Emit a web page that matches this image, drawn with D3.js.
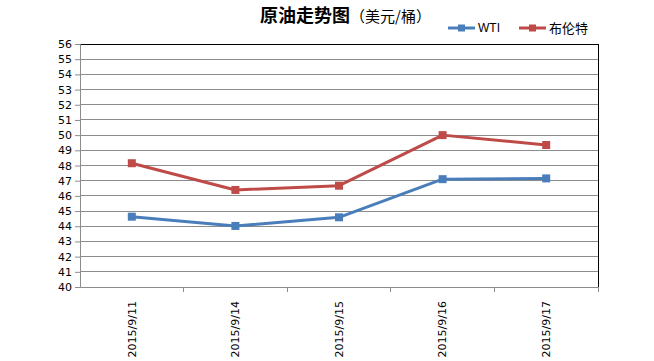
<!DOCTYPE html>
<html><head><meta charset="utf-8">
<script src="https://cdn.jsdelivr.net/npm/d3@7"></script>
<style>body{margin:0;background:#fff}svg{display:block}</style>
</head><body>
<script>
const categories = ["2015/9/11","2015/9/14","2015/9/15","2015/9/16","2015/9/17"];
const wti = [44.63, 44.02, 44.59, 47.10, 47.15];
const brent = [48.15, 46.39, 46.67, 50.00, 49.35];
const seriesNames = ["WTI","布伦特"];
const colors = ["#4a7ebb","#be4b48"];
const yTicks = d3.range(40, 57, 1);

const W = 654, H = 361;
const m = {l:80, r:56, t:44, b:74};
const svg = d3.select("body").append("svg").attr("width", W).attr("height", H);
const x = d3.scaleBand().domain(categories).range([m.l, W - m.r]);
const y = d3.scaleLinear().domain([40, 56]).range([H - m.b, m.t]);

// gridlines
svg.append("g").selectAll("line").data(yTicks.filter(d => d > 40 && d < 56)).join("line")
  .attr("x1", m.l).attr("x2", W - m.r).attr("y1", d => y(d)).attr("y2", d => y(d))
  .attr("stroke", "#8c8c8c").attr("stroke-width", 1).attr("shape-rendering","crispEdges");
// top and right border
svg.append("line").attr("x1", m.l).attr("x2", W - m.r).attr("y1", y(56)).attr("y2", y(56))
  .attr("stroke", "#000").attr("shape-rendering","crispEdges");
svg.append("line").attr("x1", W - m.r).attr("x2", W - m.r).attr("y1", y(56)).attr("y2", y(40))
  .attr("stroke", "#000").attr("shape-rendering","crispEdges");

// y axis
const ya = svg.append("g").attr("transform", `translate(${m.l},0)`)
  .call(d3.axisLeft(y).tickValues(yTicks).tickSize(5).tickPadding(3).tickFormat(d3.format("d")));
ya.select(".domain").attr("stroke", "#8c8c8c");
ya.selectAll(".tick line").attr("stroke", "#8c8c8c");
ya.selectAll("text").attr("font-family","Verdana, 'DejaVu Sans', sans-serif").attr("font-size", 11).attr("fill","#000");

// x axis
const xa = svg.append("g").attr("transform", `translate(0,${H - m.b})`)
  .call(d3.axisBottom(x).tickSize(0).tickFormat(d => d));
xa.select(".domain").attr("stroke", "#8c8c8c");
xa.selectAll(".tick text")
  .attr("font-family","Verdana, 'DejaVu Sans', sans-serif").attr("font-size", 11).attr("fill","#000")
  .attr("transform", "rotate(-90)").attr("text-anchor","end").attr("x", -14).attr("y", 0).attr("dy","0.35em");
// category boundary ticks
const bounds = categories.slice(1).map(c => x(c)).concat([x.range()[1]]);
svg.append("g").selectAll("line").data(bounds).join("line")
  .attr("x1", d => d).attr("x2", d => d).attr("y1", H - m.b).attr("y2", H - m.b + 5)
  .attr("stroke", "#8c8c8c").attr("shape-rendering","crispEdges");

// series
const cx = d => x(d) + x.bandwidth()/2;
[wti, brent].forEach((vals, i) => {
  const data = categories.map((c, j) => ({c, v: vals[j]}));
  svg.append("path").datum(data)
    .attr("d", d3.line().x(d => cx(d.c)).y(d => y(d.v)))
    .attr("fill","none").attr("stroke", colors[i]).attr("stroke-width", 3).attr("stroke-linejoin","round");
  svg.append("g").selectAll("rect").data(data).join("rect")
    .attr("x", d => cx(d.c) - 4).attr("y", d => y(d.v) - 4).attr("width", 8).attr("height", 8)
    .attr("fill", colors[i]);
});

// title
const t = svg.append("text").attr("x", 260).attr("y", 22).attr("font-family","'Noto Sans CJK SC', sans-serif").attr("fill","#000");
t.append("tspan").attr("font-size", 18).attr("font-weight","bold").text("原油走势图");
t.append("tspan").attr("font-size", 15).text("（美元/桶）");

// legend
const lx = [448, 519];
seriesNames.forEach((n, i) => {
  const g = svg.append("g");
  g.append("line").attr("x1", lx[i]).attr("x2", lx[i] + 27).attr("y1", 28).attr("y2", 28)
    .attr("stroke", colors[i]).attr("stroke-width", 3);
  g.append("rect").attr("x", lx[i] + 10).attr("y", 24.5).attr("width", 7).attr("height", 7).attr("fill", colors[i]);
  g.append("text").attr("x", lx[i] + 30).attr("y", 28).attr("dy","0.35em")
    .attr("font-family", i === 0 ? "Arial, 'Liberation Sans', sans-serif" : "'Noto Sans CJK SC', sans-serif")
    .attr("font-size", i === 0 ? 12 : 13).attr("fill","#000").text(n);
});
</script>
</body></html>
